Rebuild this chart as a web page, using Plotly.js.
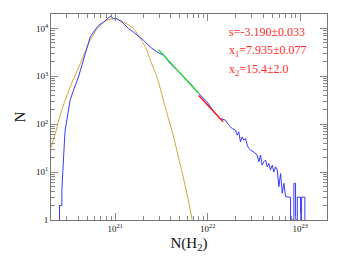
<!DOCTYPE html>
<html><head><meta charset="utf-8">
<script src="https://cdn.plot.ly/plotly-3.0.1.min.js"></script>
<style>html,body{margin:0;padding:0;background:#fff}</style>
</head><body><div id="chart" style="width:341px;height:267px"></div>
<script>
// Histogram of N(H2): log10 column density and log10 counts
const histLogN = [20.397,20.397,20.4225,20.4225,20.433,20.440,20.451,20.458,20.477,20.494,20.512,20.548,20.602,20.639,20.693,20.729,20.765,20.819,20.873,20.927,20.946,20.982,21.018,21.073,21.144,21.198,21.271,21.307,21.379,21.452,21.523,21.596,21.668,21.740,21.813,21.903,21.994,22.065,22.138,
  22.192,22.228,22.264,22.300,22.319,22.336,22.354,22.373,22.390,22.408,22.427,22.444,22.463,22.498,22.535,22.553,22.571,22.589,22.607,22.625,22.644,22.661,22.679,22.698,22.715,22.734,22.752,22.769,22.788,22.806,22.824,22.842,22.878,22.896,22.896,22.932,22.932,22.950,22.950,22.969,22.969,23.004,23.004,23.015,23.015,23.051,23.051];
const histLogCount = [0,0.301,0.301,0.625,1.006,1.396,1.667,1.875,2.083,2.292,2.500,2.708,2.985,3.229,3.610,3.819,3.923,4.062,4.131,4.223,4.250,4.202,4.202,4.131,3.994,3.923,3.819,3.750,3.610,3.506,3.438,3.265,3.125,2.985,2.848,2.640,2.465,2.256,2.119,
  2.083,1.979,1.910,1.875,1.771,1.840,1.631,1.735,1.667,1.702,1.563,1.494,1.458,1.423,1.354,1.215,1.354,1.146,1.215,1.250,1.110,1.181,1.042,1.146,1.000,1.110,1.042,0.694,0.973,0.556,0.765,0.485,0.477,0.477,0,0,0.765,0.765,0,0,0.477,0.477,0,0,0.477,0.477,0];
// Log-normal fit curve
const fitLogN = [20.307,20.350,20.404,20.458,20.512,20.621,20.729,20.819,20.910,21.000,21.090,21.198,21.271,21.343,21.379,21.452,21.523,21.577,21.632,21.668,21.740,21.794,21.831];
const fitLogCount = [1.521,1.792,2.188,2.500,2.777,3.265,3.750,4.027,4.167,4.202,4.131,3.994,3.785,3.542,3.333,2.979,2.479,2.104,1.729,1.438,0.854,0.375,0.015];
// Power-law fits
const greenLogN = [21.469,21.903];
const greenLogCount = [3.556,2.640];
const redLogN = [21.903,22.167];
const redLogCount = [2.600,2.050];
const fitLabels = ["s=-3.190±0.033","x<sub>1</sub>=7.935±0.077","x<sub>2</sub>=15.4±2.0"];
const yTickVals = [1,10,100,1000,10000];
const yTickText = ["1","10<sup>1</sup>","10<sup>2</sup>","10<sup>3</sup>","10<sup>4</sup>"];
const xTickVals = [1e21,1e22,1e23];
const xTickText = ["10<sup>21</sup>","10<sup>22</sup>","10<sup>23</sup>"];

const p = v => Math.pow(10, v);
const traces = [
  {x: fitLogN.map(p), y: fitLogCount.map(p), mode:'lines', line:{color:'#d4a53c', width:1, shape:'spline', smoothing:0.8}, hoverinfo:'skip'},
  {x: histLogN.map(p), y: histLogCount.map(p), mode:'lines', line:{color:'#3a3aff', width:1}, hoverinfo:'skip'},
  {x: greenLogN.map(p), y: greenLogCount.map(p), mode:'lines', line:{color:'#22dd22', width:1.3}, hoverinfo:'skip'},
  {x: redLogN.map(p), y: redLogCount.map(p), mode:'lines', line:{color:'#ee1111', width:1.3}, hoverinfo:'skip'}
];
const font = {family:'"Liberation Serif", "DejaVu Serif", serif', color:'#111'};
const axisCommon = {
  type:'log', showgrid:false, zeroline:false, showline:true, linecolor:'#777', linewidth:1,
  mirror:'ticks', ticks:'inside', ticklen:7, tickcolor:'#888', tickwidth:1,
  tickfont:{family:font.family, size:9, color:'#111'},
  minor:{ticks:'inside', ticklen:4, tickcolor:'#888', dtick:'D1', showgrid:false}
};
const layout = {
  width:341, height:267, margin:{l:51, r:14, t:14, b:47},
  paper_bgcolor:'#fff', plot_bgcolor:'#fff', showlegend:false, font:font,
  xaxis: Object.assign({}, axisCommon, {range:[20.305, 23.29], tickvals:xTickVals, ticktext:xTickText,
    title:{text:'N(H<sub>2</sub>)', font:{family:font.family, size:15, color:'#111'}, standoff:4}}),
  yaxis: Object.assign({}, axisCommon, {range:[0, 4.3], tickvals:yTickVals, ticktext:yTickText,
    title:{text:'N', font:{family:font.family, size:15, color:'#111'}, standoff:6}}),
  annotations: fitLabels.map((t,i)=>({xref:'paper', yref:'paper', x:0.638, y:[0.913,0.820,0.728][i],
    xanchor:'left', yanchor:'middle', text:t, showarrow:false,
    font:{family:font.family, size:12, color:'#ff2a2a'}}))
};
Plotly.newPlot('chart', traces, layout, {staticPlot:true, displayModeBar:false});
</script></body></html>
